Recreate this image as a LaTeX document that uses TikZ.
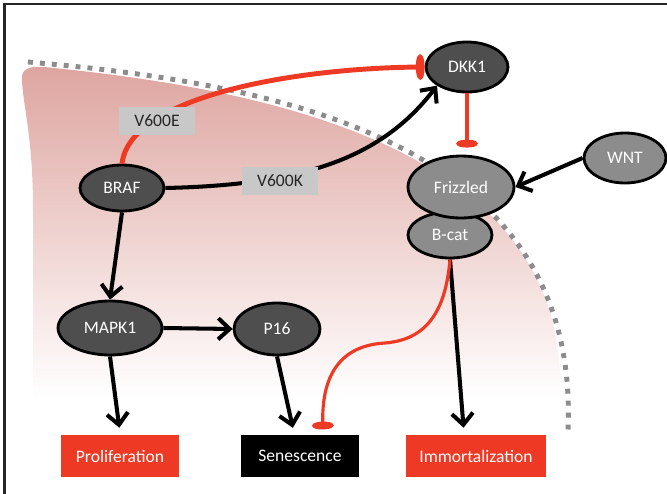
\documentclass[tikz,border=0pt]{standalone}
\usepackage{fontspec}
\setmainfont{Carlito}
\usetikzlibrary{shapes.geometric,arrows.meta}
\definecolor{inhred}{RGB}{238,58,36}
\definecolor{darknode}{RGB}{78,78,78}
\definecolor{lightnode}{RGB}{140,140,140}
\definecolor{tagfill}{RGB}{200,200,200}
\definecolor{blush}{RGB}{222,165,160}
\tikzset{
every picture/.style={
line width=2.3pt
},
gene/.style={ellipse, draw=black, line width=1.6pt, fill=darknode, text=white, inner sep=0pt},
receptor/.style={gene, fill=lightnode},
fate/.style={rectangle, text=white, minimum height=0.84cm, inner sep=0pt},
tag/.style={rectangle, fill=tagfill, text=black!85, minimum width=1.52cm, minimum height=0.57cm, inner sep=0pt},
act/.style={-{Straight Barb[length=6.5pt,width=12pt]}},
inh/.style={inhred, -{Ellipse[length=4.5pt,width=12pt]}}
}

\begin{document}
\begin{tikzpicture}[x=0.02cm, y=-0.02cm]
\useasboundingbox (0,0) rectangle (667,494);
\draw[line width=1.7pt, black!85] (4.5,494) -- (4.5,4) -- (667,4);

\shade[top color=blush, bottom color=white] (22,82) .. controls (20,68) and (30,66) .. (44,67) .. controls (300,92) and (570,160) .. (560,398) -- (33,398) -- (33,210) .. controls (33,140) and (24,110) .. (22,82) -- cycle;
\draw[black!45, line width=2.8pt, dash pattern=on 2.8pt off 4pt] (28,62) .. controls (300,85) and (580,150) .. (568,430);

\node[gene, minimum width=1.68cm, minimum height=0.92cm] (braf) at (122,188) {BRAF};
\node[gene, minimum width=1.64cm, minimum height=1cm] (dkk1) at (467,67) {DKK1};
\node[gene, minimum width=2.08cm, minimum height=1.08cm] (mapk1) at (110,328) {MAPK1};
\node[gene, minimum width=1.72cm, minimum height=1.04cm] (p16) at (277,329) {P16};
\node[receptor, minimum width=1.64cm, minimum height=1cm] (wnt) at (625,158) {WNT};
\node[receptor, minimum width=1.68cm, minimum height=0.92cm] (bcat) at (450,235) {B-cat};
\node[receptor, minimum width=2.12cm, minimum height=1.24cm] (frizzled) at (461,187) {Frizzled};

\foreach \nm/\x/\w/\c/\txt in {prolif/120/2.36cm/inhred/Proliferation, senes/300/2.38cm/black/Senescence, immort/476/2.8cm/inhred/Immortalization}{
  \node[fate, fill=\c, minimum width=\w] (\nm) at (\x,456) {\txt};
}

\draw[act] (braf.south) -- (mapk1.north);
\draw[act] (mapk1.east) -- (p16.west);
\draw[act, shorten >=3pt] (mapk1.south) -- (prolif.north);
\draw[act, shorten >=3pt] (p16.south) -- ([xshift=-0.12cm]senes.north);
\draw[act, shorten >=3pt] (bcat.south) -- ([xshift=-0.24cm]immort.north);
\draw[act] (wnt.west) -- (frizzled.east);
\draw[act] (braf.east) .. controls (300,185) and (380,160) .. (dkk1.south west);

\draw[inh, line width=2.8pt, -{Ellipse[length=5pt,width=14pt]}] (braf.north) .. controls (130,95) and (300,68) .. (dkk1.west);
\draw[inh, line width=1.8pt, shorten >=4pt] (dkk1.south) -- (dkk1.south |- frizzled.north);
\draw[inh, line width=1.8pt, shorten >=2pt] (bcat.south) .. controls (445,320) and (420,340) .. (385,343) .. controls (330,346) and (322,390) .. ([xshift=0.46cm]senes.north);

\node[tag] (v600e) at (157,121) {V600E};
\node[tag] (v600k) at (280,181) {V600K};
\end{tikzpicture}
\end{document}
